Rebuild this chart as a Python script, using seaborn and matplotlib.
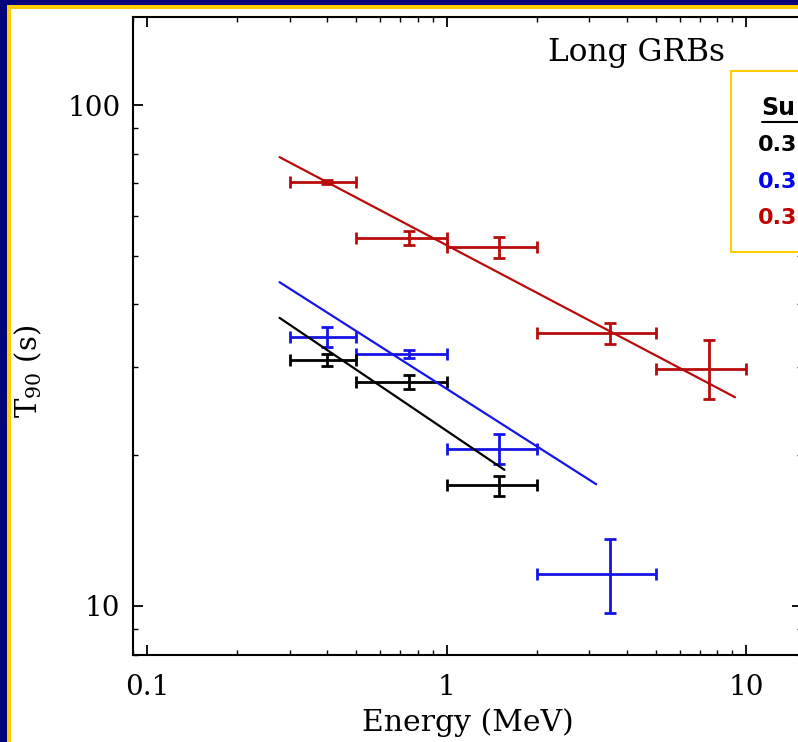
import numpy as np
import matplotlib
matplotlib.use("Agg")
import matplotlib.pyplot as plt
import matplotlib.ticker as mticker
from matplotlib.patches import Rectangle
from matplotlib.lines import Line2D
import seaborn as sns

# ---------------- data ----------------
energy_center = [0.4, 0.75, 1.5, 3.5, 7.5]
energy_lo = [0.3, 0.5, 1.0, 2.0, 5.0]
energy_hi = [0.5, 1.0, 2.0, 5.0, 10.0]

red_t90 = [70.2, 54.3, 52.1, 35.1, 29.7]
red_err_lo = [0.6, 1.7, 2.5, 1.7, 3.8]
red_err_hi = [0.6, 1.7, 2.5, 1.7, 4.2]

blue_t90 = [34.4, 31.8, 20.6, 11.6]
blue_err_lo = [1.5, 0.6, 1.4, 1.9]
blue_err_hi = [1.7, 0.6, 1.4, 2.0]

black_t90 = [31.0, 28.0, 17.4]
black_err_lo = [0.9, 0.9, 0.8]
black_err_hi = [0.9, 0.9, 0.8]

fit_red_E = [0.277, 9.19]
fit_red_T = [78.7, 26.1]
fit_blue_E = [0.277, 3.16]
fit_blue_T = [44.3, 17.5]
fit_black_E = [0.277, 1.56]
fit_black_T = [37.6, 18.7]

# legend panel is cut by the slide edge: only these parts are visible
legend_title = "Su"
legend_lines = ["0.3", "0.3", "0.3"]
legend_colors = ["black", "#0000ee", "#c00000"]

RED = "#b80c0c"
BLUE = "#1515e6"
BLACK = "black"

# ---------------- figure ----------------
sns.set_theme(style="ticks")
plt.rcParams["font.family"] = ["DejaVu Serif"]
plt.rcParams["mathtext.fontset"] = "dejavuserif"
for k in ["text.color", "axes.labelcolor", "xtick.color", "ytick.color"]:
    plt.rcParams[k] = "black"

W, H = 798, 742
fig = plt.figure(figsize=(W / 100, H / 100), dpi=100)
fig.patch.set_facecolor("#03037a")

# slide frame: gold line, white panel
fig.add_artist(Rectangle((7 / W, 0), 1, (H - 5) / H, transform=fig.transFigure,
                         facecolor="#ffcc00", edgecolor="none", zorder=-10))
fig.add_artist(Rectangle((11 / W, 0), 1, (H - 9) / H, transform=fig.transFigure,
                         facecolor="white", edgecolor="none", zorder=-9))

ax = fig.add_axes([133 / W, (H - 655) / H, (802 - 133) / W, (655 - 17) / H])
ax.set_facecolor("white")
ax.set_xscale("log")
ax.set_yscale("log")

def draw_series(t90, elo, ehi, color, n):
    xc = np.array(energy_center[:n])
    xerr = [xc - np.array(energy_lo[:n]), np.array(energy_hi[:n]) - xc]
    ax.errorbar(xc, t90, yerr=[elo, ehi], xerr=xerr, fmt="none",
                ecolor=color, elinewidth=2.0, capsize=4, capthick=2.0, zorder=3)

draw_series(red_t90, red_err_lo, red_err_hi, RED, 5)
draw_series(blue_t90, blue_err_lo, blue_err_hi, BLUE, 4)
draw_series(black_t90, black_err_lo, black_err_hi, BLACK, 3)

sns.lineplot(x=fit_red_E, y=fit_red_T, ax=ax, color=RED, lw=1.6, zorder=4)
sns.lineplot(x=fit_blue_E, y=fit_blue_T, ax=ax, color=BLUE, lw=1.6, zorder=4)
sns.lineplot(x=fit_black_E, y=fit_black_T, ax=ax, color=BLACK, lw=1.6, zorder=4)

ax.set_xlim(10 ** (-1 - 14 / 300), 10 ** (1 + 56 / 300))
ax.set_ylim(10 ** (1 - 49 / 501), 10 ** (2 + 88 / 501))

fmt = mticker.FuncFormatter(lambda v, _: f"{v:g}")
ax.xaxis.set_major_locator(mticker.FixedLocator([0.1, 1, 10]))
ax.yaxis.set_major_locator(mticker.FixedLocator([10, 100]))
ax.xaxis.set_major_formatter(fmt)
ax.yaxis.set_major_formatter(fmt)
ax.xaxis.set_minor_locator(mticker.LogLocator(base=10, subs=np.arange(2, 10)))
ax.yaxis.set_minor_locator(mticker.LogLocator(base=10, subs=np.arange(2, 10)))
ax.xaxis.set_minor_formatter(mticker.NullFormatter())
ax.yaxis.set_minor_formatter(mticker.NullFormatter())

ax.tick_params(which="both", direction="in", top=True, right=True,
               color="black", labelcolor="black")
ax.tick_params(which="major", length=7, width=1.3, labelsize=20)
ax.tick_params(axis="x", which="major", pad=14)
ax.tick_params(axis="y", which="major", pad=9)
ax.tick_params(which="minor", length=3.5, width=1.0)
for s in ax.spines.values():
    s.set_color("black")
    s.set_linewidth(1.5)

ax.set_xlabel("Energy (MeV)", fontsize=21.5, color="black")
ax.xaxis.set_label_coords(0.5, -(708 - 655) / 638)
ax.set_ylabel(r"T$_{\mathregular{90}}$ (s)", fontsize=21, color="black")
ax.yaxis.set_label_coords((44 - 133) / 669, (655 - 371) / 638)

ax.text((636 - 133) / 669, (655 - 53) / 638, "Long GRBs", transform=ax.transAxes,
        ha="center", va="center", fontsize=22.5, family="DejaVu Serif", color="black")

# partially visible legend panel on the right
fig.add_artist(Rectangle((731 / W, (H - 252) / H), 0.2, (252 - 71) / H,
                         transform=fig.transFigure, facecolor="white",
                         edgecolor="#ffcc00", lw=1.5, zorder=5))
fig.text(761 / W, (H - 108) / H, legend_title, fontsize=17, fontweight="bold",
         family="DejaVu Sans", color="black", va="center", ha="left", zorder=6)
fig.add_artist(Line2D([762 / W, 1.0], [(H - 122) / H] * 2, transform=fig.transFigure,
                      color="black", lw=1.5, zorder=6))
for i, (txt, col) in enumerate(zip(legend_lines, legend_colors)):
    fig.text(758 / W, (H - 145 - 36.5 * i) / H, txt, fontsize=16, fontweight="bold",
             family="DejaVu Sans", color=col, va="center", ha="left", zorder=6)

fig.savefig("out.png", dpi=100, facecolor=fig.get_facecolor())
